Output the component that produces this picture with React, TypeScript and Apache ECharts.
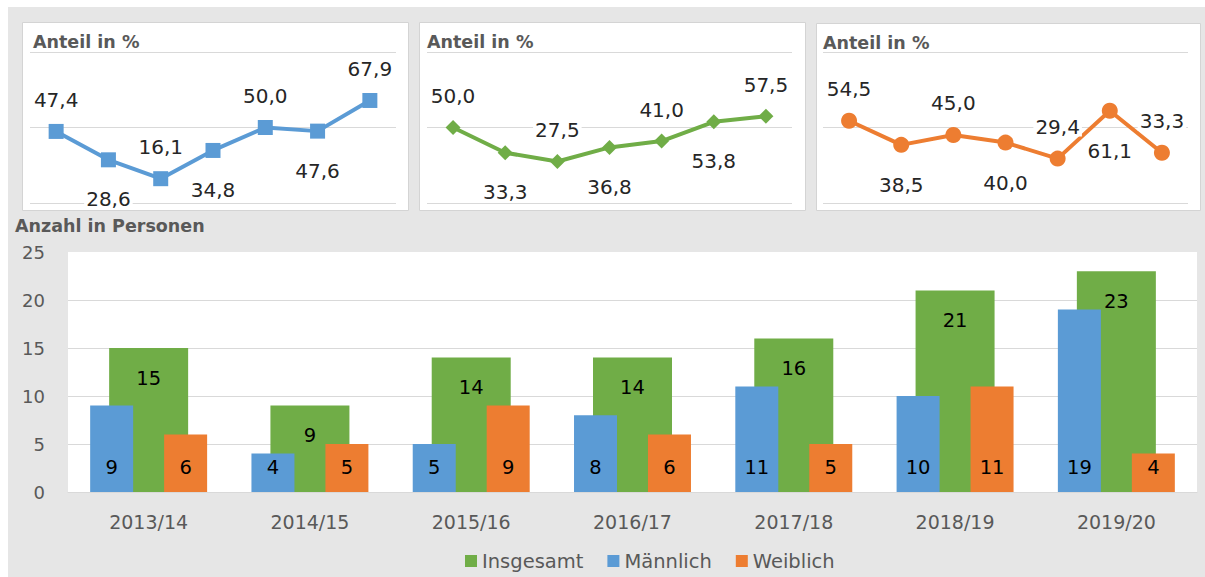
import React, { useEffect, useRef } from "react";
import * as echarts from "echarts";

const YEARS = ["2013/14", "2014/15", "2015/16", "2016/17", "2017/18", "2018/19", "2019/20"];
const TOTAL = [15, 9, 14, 14, 16, 21, 23];
const MALE = [9, 4, 5, 8, 11, 10, 19];
const FEMALE = [6, 5, 9, 6, 5, 11, 4];

const SHARE_BLUE = [47.4, 28.6, 16.1, 34.8, 50.0, 47.6, 67.9];
const SHARE_GREEN = [50.0, 33.3, 27.5, 36.8, 41.0, 53.8, 57.5];
const SHARE_ORANGE = [54.5, 38.5, 45.0, 40.0, 29.4, 61.1, 33.3];

const LABEL_SIDE = ["top", "bottom", "top", "bottom", "top", "bottom", "top"];

const SERIES_NAMES = ["Insgesamt", "Männlich", "Weiblich"];
const PANEL_TITLE = "Anteil in %";
const BAR_TITLE = "Anzahl in Personen";

const BLUE = "#5b9bd5";
const GREEN = "#70ad47";
const ORANGE = "#ed7d31";
const FONT = "DejaVu Sans";

const fmt = (v: number) => Number(v).toFixed(1).replace(".", ",");

function lineSeries(idx: number, values: number[], color: string, symbol: string, size: number) {
  return {
    type: "line",
    xAxisIndex: idx,
    yAxisIndex: idx,
    data: values.map((v, i) => ({
      value: v,
      label: { position: LABEL_SIDE[i], distance: LABEL_SIDE[i] === "top" ? 14 : 22 },
    })),
    symbol,
    symbolSize: size,
    lineStyle: { color, width: 4 },
    itemStyle: { color },
    label: {
      show: true,
      formatter: (p: any) => fmt(p.value),
      fontSize: 20,
      fontFamily: FONT,
      color: "#262626",
      backgroundColor: "#fff",
      padding: [0, 2],
    },
  };
}

const lineGrids = [
  { left: 22, top: 45, width: 366, height: 151 },
  { left: 419, top: 45, width: 365, height: 151 },
  { left: 815, top: 45, width: 365, height: 151 },
];

const panels = [
  { x: 14, y: 15, w: 386, h: 188, tx: 25, ty: 35 },
  { x: 411, y: 15, w: 386, h: 188, tx: 419, ty: 35 },
  { x: 808, y: 16, w: 384, h: 187, tx: 815, ty: 36 },
];

export default function App() {
  const ref = useRef<HTMLDivElement>(null);
  useEffect(() => {
    const chart = echarts.init(ref.current!, null, { renderer: "svg" });
    const option: any = {
      animation: false,
      textStyle: { fontFamily: FONT },
      graphic: {
        elements: [
          ...panels.map((p) => ({
            type: "rect",
            silent: true,
            z: -10,
            shape: { x: p.x + 0.5, y: p.y + 0.5, width: p.w, height: p.h },
            style: { fill: "#fff", stroke: "#d4d4d4", lineWidth: 1 },
          })),
          {
            type: "rect",
            silent: true,
            z: -10,
            shape: { x: 60, y: 245, width: 1129, height: 240 },
            style: { fill: "#fff" },
          },
          ...panels.map((p) => ({
            type: "text",
            x: p.tx,
            y: p.ty,
            z: 10,
            style: {
              text: PANEL_TITLE,
              fontSize: 17.5,
              fontWeight: "bold",
              fontFamily: FONT,
              fill: "#595959",
              verticalAlign: "middle",
            },
          })),
          {
            type: "text",
            x: 7,
            y: 219,
            z: 10,
            style: {
              text: BAR_TITLE,
              fontSize: 17.5,
              fontWeight: "bold",
              fontFamily: FONT,
              fill: "#595959",
              verticalAlign: "middle",
            },
          },
        ],
      },
      legend: {
        data: SERIES_NAMES,
        left: 457,
        top: 544,
        padding: 0,
        icon: "rect",
        itemWidth: 12,
        itemHeight: 12,
        itemGap: 24,
        textStyle: { fontSize: 19.5, color: "#595959", fontFamily: FONT },
      },
      grid: [...lineGrids, { left: 60, top: 245, width: 1129, height: 240 }],
      xAxis: [
        ...lineGrids.map((_, i) => ({
          type: "category",
          gridIndex: i,
          data: YEARS,
          show: false,
          boundaryGap: true,
        })),
        {
          type: "category",
          gridIndex: 3,
          data: YEARS,
          axisLine: { lineStyle: { color: "#d9d9d9" } },
          axisTick: { show: false },
          axisLabel: { color: "#595959", fontSize: 19, margin: 20, fontFamily: FONT },
        },
        { type: "category", gridIndex: 3, data: YEARS, show: false },
      ],
      yAxis: [
        ...lineGrids.map((_, i) => ({
          type: "value",
          gridIndex: i,
          min: 0,
          max: 100,
          interval: 50,
          axisLabel: { show: false },
          axisLine: { show: false },
          axisTick: { show: false },
          splitLine: { lineStyle: { color: "#d9d9d9", width: 1 } },
        })),
        {
          type: "value",
          gridIndex: 3,
          min: 0,
          max: 25,
          interval: 5,
          axisLabel: { color: "#595959", fontSize: 18, margin: 23, fontFamily: FONT },
          axisLine: { show: false },
          axisTick: { show: false },
          splitLine: { showMaxLine: false, lineStyle: { color: "#d9d9d9", width: 1 } },
        },
      ],
      series: [
        lineSeries(0, SHARE_BLUE, BLUE, "rect", 15),
        lineSeries(1, SHARE_GREEN, GREEN, "diamond", 15),
        lineSeries(2, SHARE_ORANGE, ORANGE, "circle", 16),
        {
          name: SERIES_NAMES[0],
          type: "bar",
          xAxisIndex: 3,
          yAxisIndex: 3,
          data: TOTAL,
          barWidth: 79,
          z: 2,
          itemStyle: { color: GREEN },
          label: {
            show: true,
            position: "insideTop",
            distance: 20,
            fontSize: 19.5,
            color: "#000",
            fontFamily: FONT,
          },
        },
        {
          name: SERIES_NAMES[1],
          type: "bar",
          xAxisIndex: 4,
          yAxisIndex: 3,
          data: MALE,
          barWidth: 43,
          barGap: "72%",
          z: 3,
          itemStyle: { color: BLUE },
          label: {
            show: true,
            position: "insideBottom",
            distance: 15,
            fontSize: 19.5,
            color: "#000",
            fontFamily: FONT,
          },
        },
        {
          name: SERIES_NAMES[2],
          type: "bar",
          xAxisIndex: 4,
          yAxisIndex: 3,
          data: FEMALE,
          barWidth: 43,
          barGap: "72%",
          z: 3,
          itemStyle: { color: ORANGE },
          label: {
            show: true,
            position: "insideBottom",
            distance: 15,
            fontSize: 19.5,
            color: "#000",
            fontFamily: FONT,
          },
        },
      ],
    };
    chart.setOption(option);
    return () => chart.dispose();
  }, []);
  return (
    <div
      ref={ref}
      style={{
        position: "fixed",
        left: 8,
        top: 7,
        width: 1197,
        height: 570,
        background: "#e6e6e6",
      }}
    />
  );
}
